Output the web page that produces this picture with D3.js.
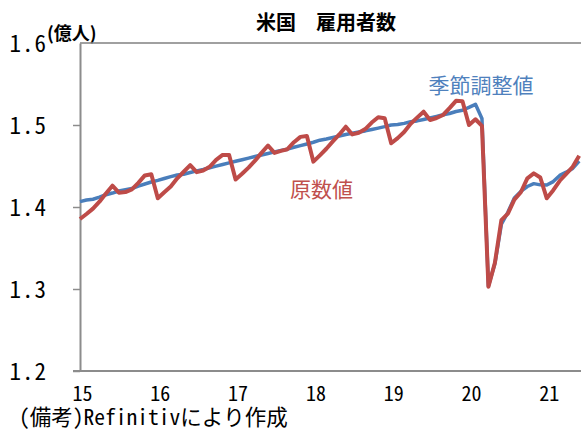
<!DOCTYPE html>
<html>
<head>
<meta charset="utf-8">
<script src="https://cdn.jsdelivr.net/npm/d3@7"></script>
<style>
  body { margin: 0; background: #fff; }
  svg text { font-family: "Noto Sans CJK JP", sans-serif; }
  svg .mono { font-family: "Noto Sans Mono CJK JP", "Noto Sans CJK JP", sans-serif; }
</style>
</head>
<body>
<div id="chart"></div>
<script>
// year tick labels (each at January of that year)
const years = ["15", "16", "17", "18", "19", "20", "21"];
const yTicks = [1.2, 1.3, 1.4, 1.5, 1.6];

// monthly values, Jan 2015 - Jun 2021 (億人)
const seasonal = [
  1.4065, 1.4085, 1.4095, 1.4120, 1.4150, 1.4170, 1.4195, 1.4210, 1.4225, 1.4255, 1.4280, 1.4305,
  1.4325, 1.4348, 1.4370, 1.4390, 1.4400, 1.4420, 1.4440, 1.4458, 1.4478, 1.4498, 1.4518, 1.4538,
  1.4558, 1.4577, 1.4596, 1.4615, 1.4634, 1.4653, 1.4672, 1.4690, 1.4705, 1.4728, 1.4748, 1.4769,
  1.4790, 1.4815, 1.4830, 1.4848, 1.4865, 1.4885, 1.4900, 1.4915, 1.4928, 1.4945, 1.4962, 1.4980,
  1.5000, 1.5005, 1.5020, 1.5040, 1.5050, 1.5068, 1.5085, 1.5105, 1.5125, 1.5140, 1.5165, 1.5180,
  1.5215, 1.5252, 1.5080, 1.3035, 1.3310, 1.3790, 1.3935, 1.4110, 1.4190, 1.4250, 1.4285, 1.4270,
  1.4268, 1.4310, 1.4385, 1.4425, 1.4470, 1.4560
];
const raw = [
  1.3854, 1.3915, 1.3980, 1.4065, 1.4165, 1.4260, 1.4175, 1.4182, 1.4215, 1.4295, 1.4385, 1.4400,
  1.4106, 1.4180, 1.4250, 1.4350, 1.4430, 1.4510, 1.4425, 1.4445, 1.4490, 1.4575, 1.4635, 1.4635,
  1.4335, 1.4405, 1.4480, 1.4565, 1.4660, 1.4750, 1.4660, 1.4685, 1.4705, 1.4790, 1.4855, 1.4866,
  1.4553, 1.4630, 1.4710, 1.4800, 1.4885, 1.4979, 1.4885, 1.4905, 1.4950, 1.5030, 1.5094, 1.5082,
  1.4777, 1.4840, 1.4915, 1.5015, 1.5090, 1.5162, 1.5061, 1.5085, 1.5122, 1.5205, 1.5295, 1.5290,
  1.5000, 1.5070, 1.4990, 1.3028, 1.3320, 1.3840, 1.3920, 1.4090, 1.4180, 1.4350, 1.4410, 1.4360,
  1.4106, 1.4205, 1.4320, 1.4405, 1.4490, 1.4625
];

const width = 581, height = 430;
const plot = { left: 80, top: 43, right: 581, bottom: 371 };

const svg = d3.select("#chart")
  .append("svg")
  .attr("width", width)
  .attr("height", height);

// scales: x by month index, 12 per year
const x = d3.scaleLinear()
  .domain([0, 77.28])
  .range([plot.left, plot.right]);
const y = d3.scaleLinear()
  .domain([1.2, 1.6])
  .range([plot.bottom, plot.top]);

// title
svg.append("text")
  .attr("x", 326)
  .attr("y", 30)
  .attr("text-anchor", "middle")
  .attr("font-size", 20)
  .attr("font-weight", "bold")
  .attr("fill", "#000")
  .text("米国　雇用者数");

// unit
svg.append("text")
  .attr("x", 47)
  .attr("y", 40)
  .attr("font-size", 18)
  .attr("font-weight", "bold")
  .attr("fill", "#000")
  .text("(億人)");

// top border
svg.append("line")
  .attr("x1", plot.left).attr("x2", plot.right)
  .attr("y1", y(1.6)).attr("y2", y(1.6))
  .attr("stroke", "#808080")
  .attr("stroke-width", 1.5);

// Y axis
const yAxis = svg.append("g")
  .attr("transform", "translate(" + plot.left + ",0)")
  .call(d3.axisLeft(y).tickValues(yTicks).tickSize(7).tickSizeOuter(0).tickFormat(d3.format(".1f")));
yAxis.select(".domain").attr("stroke", "#8c8c8c").attr("stroke-width", 2);
yAxis.selectAll(".tick line").attr("stroke", "#8c8c8c").attr("stroke-width", 1.5);
yAxis.selectAll(".tick line").filter(d => d === 1.6).remove();
yAxis.selectAll(".tick text")
  .attr("class", "mono")
  .attr("x", -33)
  .attr("font-size", 23)
  .attr("fill", "#000")
  .attr("letter-spacing", 1)
  .attr("dy", "0.36em");

// X axis
const xAxis = svg.append("g")
  .attr("transform", "translate(0," + plot.bottom + ")")
  .call(d3.axisBottom(x).tickValues(years.map((d, i) => i * 12)).tickSize(0).tickSizeOuter(0)
    .tickFormat((d, i) => years[i]));
xAxis.select(".domain").attr("stroke", "#8c8c8c").attr("stroke-width", 2)
  .attr("d", "M" + (plot.left - 7) + ",0H" + plot.right);
xAxis.selectAll(".tick text")
  .attr("class", "mono")
  .attr("x", 2)
  .attr("y", 30)
  .attr("dy", 0)
  .attr("font-size", 20)
  .attr("fill", "#000");

// lines
const line = d3.line()
  .x((d, i) => x(i))
  .y(d => y(d));

svg.append("path")
  .datum(seasonal)
  .attr("fill", "none")
  .attr("stroke", "#4a7ebb")
  .attr("stroke-width", 3.5)
  .attr("stroke-linejoin", "round")
  .attr("d", line);

svg.append("path")
  .datum(raw)
  .attr("fill", "none")
  .attr("stroke", "#be4b48")
  .attr("stroke-width", 4)
  .attr("stroke-linejoin", "round")
  .attr("d", line);

// series labels
svg.append("text")
  .attr("x", 481)
  .attr("y", 93)
  .attr("text-anchor", "middle")
  .attr("font-size", 21)
  .attr("fill", "#4f81bd")
  .text("季節調整値");

svg.append("text")
  .attr("x", 290)
  .attr("y", 197)
  .attr("font-size", 21)
  .attr("fill", "#c0504d")
  .text("原数値");

// source note
svg.append("text")
  .attr("class", "mono")
  .attr("x", 19)
  .attr("y", 425)
  .attr("font-size", 21.5)
  .attr("fill", "#000")
  .text("(備考)Refinitivにより作成");
</script>
</body>
</html>
